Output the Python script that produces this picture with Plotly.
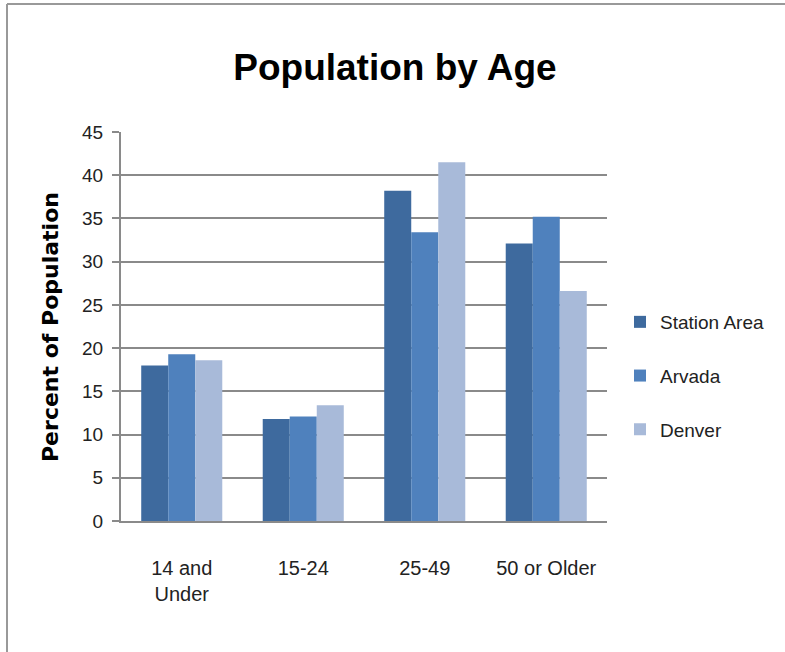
import plotly.graph_objects as go

categories = ["14 and<br>Under", "15-24", "25-49", "50 or Older"]
station_area = [18.0, 11.8, 38.2, 32.1]
arvada = [19.3, 12.1, 33.4, 35.2]
denver = [18.6, 13.4, 41.5, 26.6]
y_ticks = [0, 5, 10, 15, 20, 25, 30, 35, 40, 45]

SANS = "Liberation Sans, Arial, sans-serif"

W, H = 785, 652
L, R, T, B = 121, 178, 132, 131
pw = W - L - R
ph = H - T - B

fig = go.Figure()
series = [("Station Area", station_area, "#3E6A9E"),
          ("Arvada", arvada, "#4F81BD"),
          ("Denver", denver, "#A8BAD9")]
for name, vals, col in series:
    fig.add_trace(go.Bar(x=categories, y=vals, name=name, marker_color=col,
                         marker_line_width=0, legendgroup=name))

fig.update_layout(
    width=W, height=H,
    margin=dict(l=L, r=R, t=T, b=B, pad=0, autoexpand=False),
    paper_bgcolor="white", plot_bgcolor="white",
    barmode="group", bargap=0.333, bargroupgap=0,
    title=dict(text="<b>Population by Age</b>", xref="container", yref="container",
               x=395 / W, y=1 - 67 / H, xanchor="center", yanchor="middle",
               font=dict(family=SANS, size=37, color="black")),
    showlegend=True,
    legend=dict(x=(620 - L) / pw, y=(H - B - 376) / ph, xanchor="left", yanchor="middle",
                xref="paper", yref="paper",
                font=dict(family=SANS, size=19, color="#222"),
                tracegroupgap=26, itemwidth=30, bgcolor="rgba(0,0,0,0)"),
    font=dict(family=SANS),
)

fig.update_yaxes(range=[0, 45], tickvals=y_ticks, ticktext=[str(v) for v in y_ticks],
                 showgrid=True, gridcolor="#8A8A8A", gridwidth=2,
                 showline=True, linecolor="#8A8A8A", linewidth=2,
                 ticks="outside", ticklen=7, tickcolor="#8A8A8A", tickwidth=2,
                 zeroline=False,
                 tickfont=dict(family=SANS, size=19, color="#222"), ticklabelstandoff=5)
fig.update_xaxes(showgrid=False, showline=True, linecolor="#8A8A8A", linewidth=2,
                 ticks="", tickfont=dict(family=SANS, size=20, color="#222"),
                 ticklabelstandoff=28)

fig.add_annotation(text="<b>Percent of Population</b>", xref="paper", yref="paper",
                   x=(50 - L) / pw, y=(H - B - 327) / ph, textangle=-90,
                   showarrow=False, xanchor="center", yanchor="middle",
                   font=dict(family="DejaVu Sans, Arial, sans-serif", size=22, color="black"))

# outer chart border (top and left edges visible)
fig.add_shape(type="line", xref="paper", yref="paper",
              x0=(7 - L) / pw, x1=(W + 5 - L) / pw,
              y0=(H - B - 4) / ph, y1=(H - B - 4) / ph,
              line=dict(color="#999999", width=2))
fig.add_shape(type="line", xref="paper", yref="paper",
              x0=(7 - L) / pw, x1=(7 - L) / pw,
              y0=(H - B - 4) / ph, y1=(H - B - H - 5) / ph,
              line=dict(color="#999999", width=2))

fig.write_html("out.html")
